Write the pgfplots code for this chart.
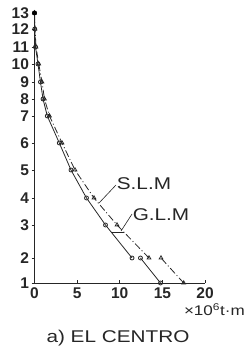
\documentclass[border=0pt]{standalone}
\usepackage{fontspec}
\setmainfont{Liberation Sans}
\newfontfamily\wide[FakeStretch=1.22]{Liberation Sans}
\usepackage{pgfplots}
\pgfplotsset{compat=1.18}
\begin{document}
\begin{tikzpicture}[x=1pt,y=1pt]
\useasboundingbox (0,0) rectangle (246,350);
\begin{axis}[
  at={(34.5pt,67pt)}, anchor=south west,
  scale only axis, width=170.5pt, height=270pt,
  xmin=0, xmax=20, ymin=0, ymax=270,
  axis lines=left, axis line style={-, line width=0.9pt, black!85},
  clip=false,
  xtick={0,5,10,15,20},
  ytick={0,25,58,85,113,140,167,184,201,219,236,254,270},
  yticklabels={1,2,3,4,5,6,7,8,9,10,11,12,13},
  tick align=inside, major tick length=3pt,
  tick style={black!85, line width=0.6pt},
  ytick style={xshift=-3pt},
  /pgf/number format/assume math mode=true,
  ticklabel style={font=\bfseries\fontsize{15.5}{17}\selectfont, text=black!85},
  yticklabel style={xshift=-2pt},
  xticklabel style={yshift=-1pt},
]
% G.L.M
\addplot[black!85, line width=0.8pt, mark=o, mark size=2pt, mark options={solid, fill=white}]
 coordinates {(11.44,25) (8.33,58) (6.10,85) (4.28,113) (2.91,140) (1.50,167) (1.00,184) (0.70,201) (0.41,219) (0.12,236) (0.03,254) (0,270)};
\addplot[black!85, line width=0.8pt, mark=o, mark size=2pt, mark options={solid, fill=white}]
 coordinates {(14.78,0) (12.43,25)};
% S.L.M
\addplot[black!85, line width=0.8pt, dash pattern=on 7pt off 2.5pt on 1pt off 2.5pt, mark=triangle, mark size=2.2pt, mark options={solid, fill=white}]
 coordinates {(13.43,25) (9.68,58) (6.98,85) (4.75,113) (3.23,140) (1.76,167) (1.17,184) (0.88,201) (0.50,219) (0.18,236) (0.06,254) (0,270)};
\addplot[black!85, line width=0.8pt, dash pattern=on 7pt off 2.5pt on 1pt off 2.5pt, mark=triangle, mark size=2.2pt, mark options={solid, fill=white}]
 coordinates {(17.5,0) (14.84,25)};
\addplot[only marks, mark=*, mark size=2.2pt, black] coordinates {(0,270)};
% labels
\node[font=\wide\fontsize{17}{19}\selectfont, text=black!85] at (axis cs:12.84,99) {S.L.M};
\draw[black!85, line width=0.6pt] (axis cs:9.56,98) -- (axis cs:7.57,80);
\node[font=\wide\fontsize{17}{19}\selectfont, text=black!85] at (axis cs:14.84,68) {G.L.M};
\draw[black!85, line width=0.6pt] (axis cs:11.44,69) -- (axis cs:10.15,52);
\draw[black!85, line width=0.6pt] (axis cs:8.97,51) -- (axis cs:10.5,51);
\end{axis}
\node[anchor=north east, inner sep=0pt, font=\wide\fontsize{14}{16}\selectfont, text=black!85] at (245,47) {×10\textsuperscript{6}t·m};
\node[inner sep=0pt, font=\wide\fontsize{17}{19}\selectfont, text=black!85] at (118,12) {a) EL CENTRO};
\end{tikzpicture}
\end{document}
